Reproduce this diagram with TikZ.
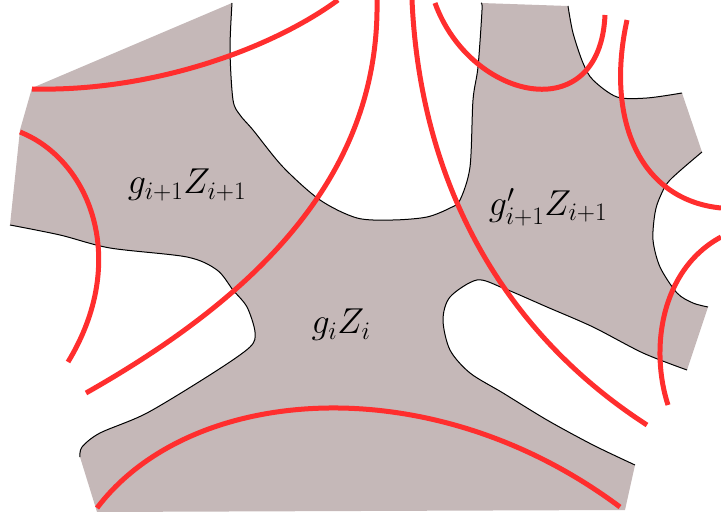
\documentclass[tikz,border=0pt]{standalone}
\usepackage{fix-cm}
\usepackage{xcolor}
\definecolor{tilegray}{HTML}{C5B8B8}
\definecolor{geored}{HTML}{FF2E2E}
\usepackage{tikz}

\tikzset{
    roughedge/.style={draw=black, line width=1pt, line join=round},
    geodesic/.style={draw=geored, line width=5pt},
    tilelabel/.style={font=\fontsize{36}{40}\selectfont, inner sep=0pt}
}

\begin{document}
\begin{tikzpicture}[x=1pt, y=-1pt]
    \useasboundingbox (0,0) rectangle (721,521);
    % the union of the three tiles
    \fill[tilegray] (232,3) -- (32,88) -- (20,130) -- (10,225)
        -- plot[smooth] coordinates {(10,225) (60,235) (110,248) (187,257) (217,270) (233,290) (247,307) (255,332) (250,347) (213,373) (147,413) (100,433) (82,447) (80,457)}
        -- (97,512) -- (625,510) -- (635,465)
        -- plot[smooth] coordinates {(635,465) (593,445) (547,420) (503,393) (470,373) (450,350) (443,320) (450,297) (477,280) (503,288) (547,307) (593,327) (643,353) (687,370)}
        -- (708,307)
        -- plot[smooth] coordinates {(708,307) (693,303) (677,293) (660,267) (653,240) (655,213) (660,197) (670,180) (702,152)}
        -- (682,93)
        -- plot[smooth] coordinates {(682,93) (647,98) (617,97) (593,80) (583,63) (573,33) (568,6)}
        -- (481,3)
        -- plot[smooth] coordinates {(481,3) (482,10) (478,67) (473,100) (470,167) (460,200) (450,208) (427,217) (393,220) (357,218) (320,200) (283,167) (253,130) (240,115) (233,100) (230,50) (232,3)}
        -- cycle;
    % rough boundaries
    \draw[roughedge] plot[smooth] coordinates {(10,225) (60,235) (110,248) (187,257) (217,270) (233,290) (247,307) (255,332) (250,347) (213,373) (147,413) (100,433) (82,447) (80,457)};
    \draw[roughedge] plot[smooth] coordinates {(635,465) (593,445) (547,420) (503,393) (470,373) (450,350) (443,320) (450,297) (477,280) (503,288) (547,307) (593,327) (643,353) (687,370)};
    \draw[roughedge] plot[smooth] coordinates {(708,307) (693,303) (677,293) (660,267) (653,240) (655,213) (660,197) (670,180) (702,152)};
    \draw[roughedge] plot[smooth] coordinates {(682,93) (647,98) (617,97) (593,80) (583,63) (573,33) (568,6)};
    \draw[roughedge] plot[smooth] coordinates {(481,3) (482,10) (478,67) (473,100) (470,167) (460,200) (450,208) (427,217) (393,220) (357,218) (320,200) (283,167) (253,130) (240,115) (233,100) (230,50) (232,3)};
    % geodesics
    \draw[geodesic] (32,89) .. controls (150,92) and (270,50) .. (338,0);
    \draw[geodesic] (20,132) .. controls (90,160) and (130,260) .. (68,362);
    \draw[geodesic] (86,393) .. controls (250,300) and (380,180) .. (377,0);
    \draw[geodesic] (412,0) .. controls (420,180) and (500,330) .. (647,425);
    \draw[geodesic] (435,3) .. controls (470,100) and (600,130) .. (605,15);
    \draw[geodesic] (627,20) .. controls (605,120) and (640,200) .. (721,208);
    \draw[geodesic] (721,237) .. controls (660,270) and (650,350) .. (668,405);
    \draw[geodesic] (97,508) .. controls (190,385) and (430,365) .. (620,507);
    % labels
    \node[tilelabel] (tileleft) at (187,185) {$g_{i+1}Z_{i+1}$};
    \node[tilelabel] (tileright) at (548,207) {$g'_{i+1}Z_{i+1}$};
    \node[tilelabel] (tilemid) at (341,325) {$g_iZ_i$};
\end{tikzpicture}
\end{document}
